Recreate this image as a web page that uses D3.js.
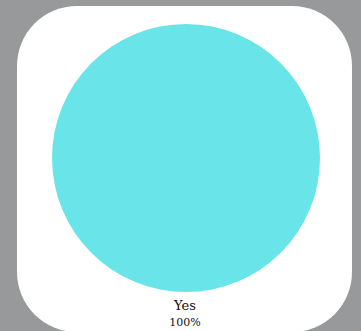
<!DOCTYPE html>
<html>
<head>
<meta charset="utf-8">
<script src="https://cdn.jsdelivr.net/npm/d3@7/dist/d3.min.js"></script>
<style>
  html, body { margin: 0; padding: 0; background: #98999b; }
  svg { display: block; }
</style>
</head>
<body>
<svg id="chart" width="361" height="331"></svg>
<script>
const categories = ["Yes"];
const values = [100];
const labels = ["100%"];
const colors = ["#69e4e8"];

const svg = d3.select("#chart");

svg.append("rect")
  .attr("x", 17).attr("y", 6)
  .attr("width", 335).attr("height", 326)
  .attr("rx", 60).attr("ry", 60)
  .attr("fill", "#ffffff");

const cx = 186, cy = 158, R = 134;
const data = categories.map((c, i) => ({ cat: c, value: values[i], label: labels[i], color: colors[i] }));
const pie = d3.pie().value(d => d.value).sort(null);
const arc = d3.arc().innerRadius(0).outerRadius(R);

const g = svg.append("g").attr("transform", `translate(${cx},${cy})`);
g.selectAll("path").data(pie(data)).join("path")
  .attr("d", arc)
  .attr("fill", d => d.data.color);

const lg = svg.append("g").attr("text-anchor", "middle")
  .style("font-family", "'DejaVu Serif', 'Liberation Serif', serif")
  .attr("fill", "#111");
data.forEach((d, i) => {
  lg.append("text").attr("x", 185).attr("y", 310)
    .style("font-size", "13px").text(d.cat);
  lg.append("text").attr("x", 185).attr("y", 326)
    .style("font-size", "11px").text(d.label);
});
</script>
</body>
</html>
